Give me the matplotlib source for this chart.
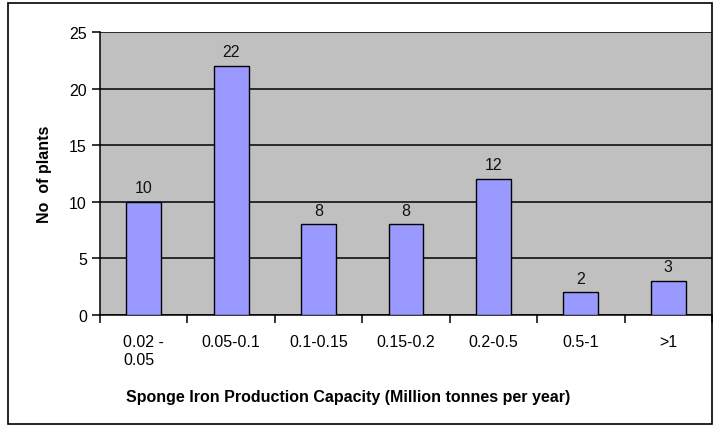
import numpy as np
import matplotlib.pyplot as plt
from matplotlib.patches import Rectangle

categories = ["0.02 -\n0.05", "0.05-0.1", "0.1-0.15", "0.15-0.2", "0.2-0.5", "0.5-1", ">1"]
plants = [10, 22, 8, 8, 12, 2, 3]

plt.rcParams["font.family"] = ["Liberation Sans", "DejaVu Sans"]

fig = plt.figure(figsize=(7.16, 4.31), dpi=100)
ax = fig.add_axes([100 / 716, 1 - 316 / 431, 612 / 716, 283 / 431])

# outer frame of the chart area
fig.patches.append(Rectangle((8 / 716, 1 - 425 / 431), 704 / 716, 421 / 431,
                             transform=fig.transFigure, fill=False,
                             edgecolor="black", linewidth=1.2))

x = np.arange(len(categories))
ax.set_facecolor("#c0c0c0")
ax.bar(x, plants, width=0.4, color="#9999ff", edgecolor="black", linewidth=1, zorder=3)

for xi, v in zip(x, plants):
    ax.text(xi, v + 0.6, str(v), ha="center", va="bottom", fontsize=11.5, color="#111111")

ax.set_xlim(-0.5, len(categories) - 0.5)
ax.set_ylim(0, 25)
ax.set_yticks([0, 5, 10, 15, 20, 25])
ax.yaxis.grid(True, color="black", linewidth=1.1, zorder=0)
ax.set_axisbelow(True)

ax.set_xticks(x)
ax.set_xticklabels(categories, fontsize=11.5)
ax.tick_params(axis="x", length=0, pad=14)
ax.set_xticks(np.arange(-0.5, len(categories)), minor=True)
ax.tick_params(axis="x", which="minor", length=6, width=1.1, direction="out")
ax.tick_params(axis="y", length=6, width=1.1, labelsize=11.5, direction="out")
for lbl in ax.get_xticklabels():
    lbl.set_multialignment("left")

for side in ["top", "right"]:
    ax.spines[side].set_visible(False)
ax.spines["left"].set_linewidth(1.1)
ax.spines["bottom"].set_linewidth(1.1)

ax.set_ylabel("No  of plants", fontsize=11.5, fontweight="bold", labelpad=12)
ax.set_xlabel("Sponge Iron Production Capacity (Million tonnes per year)",
              fontsize=11.5, fontweight="bold")
ax.xaxis.set_label_coords(0.405, -0.262)

fig.savefig("out.png", dpi=100)
